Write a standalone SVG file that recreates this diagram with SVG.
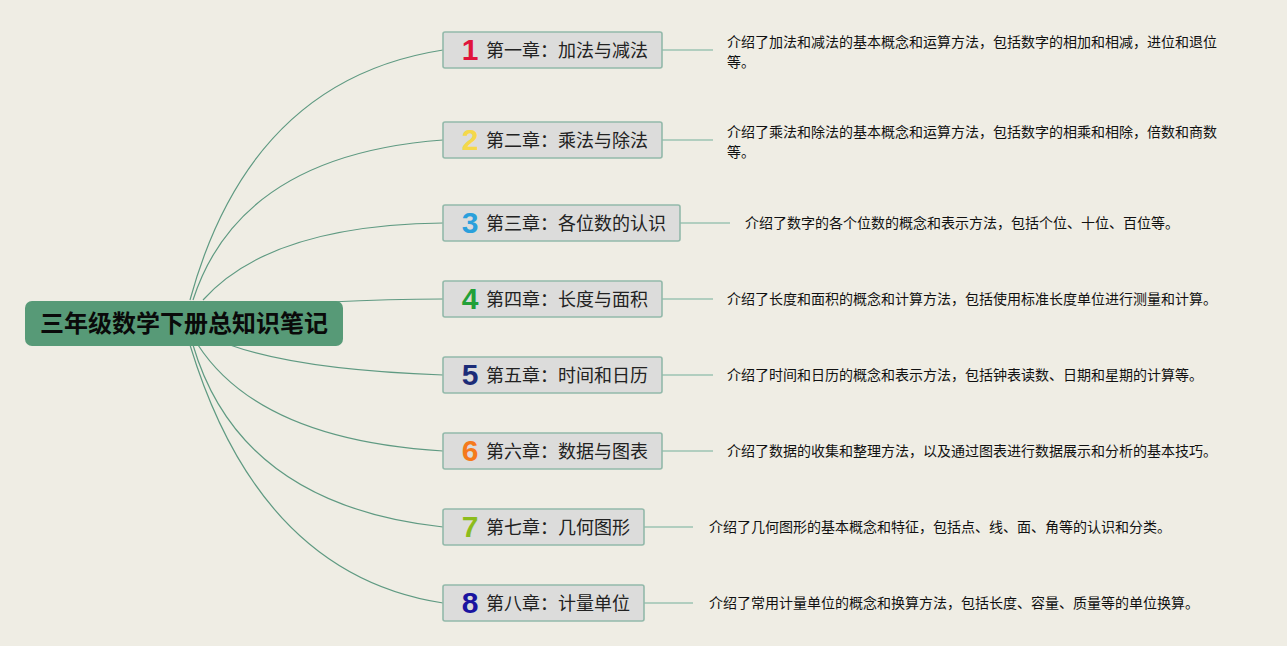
<svg xmlns="http://www.w3.org/2000/svg" width="1287" height="646" viewBox="0 0 1287 646">
<style>
.conn{fill:none;stroke:#5f9a82;stroke-width:1.2}
.sub{fill:none;stroke:#9cc3b3;stroke-width:1.5}
.box{fill:#dcdcdb;stroke:#93b9aa;stroke-width:1.6}
.num{font-family:"Liberation Sans",Arial,sans-serif;font-weight:bold;font-size:30px;text-anchor:middle}
.lbl{font-family:"Noto Sans CJK SC",sans-serif;font-size:18px;fill:#222}
.desc{font-family:"Noto Sans CJK SC",sans-serif;font-size:14px;fill:#111}
.root{font-family:"Noto Sans CJK SC",sans-serif;font-size:24px;font-weight:bold;fill:#0a0a0a}
</style>
<rect width="1287" height="646" fill="#efede4"/>
<g id="connectors">
<path class="conn" d="M190,300 Q250,80 443,50"/>
<path class="conn" d="M193,300 Q240,155 443,140"/>
<path class="conn" d="M203,300 Q270,225 443,223"/>
<path class="conn" d="M330,302 Q390,299 443,299"/>
<path class="conn" d="M230,345 Q300,370 443,375"/>
<path class="conn" d="M198,345 Q260,440 443,451"/>
<path class="conn" d="M193,345 Q240,505 443,527"/>
<path class="conn" d="M190,345 Q260,575 443,603"/>
<path class="sub" d="M662,50 H713"/>
<path class="sub" d="M662,140 H713"/>
<path class="sub" d="M680,223 H730"/>
<path class="sub" d="M662,299 H713"/>
<path class="sub" d="M662,375 H713"/>
<path class="sub" d="M662,451 H713"/>
<path class="sub" d="M644,527 H693"/>
<path class="sub" d="M644,603 H693"/>
</g>
<g id="root">
<rect x="25" y="301" width="318" height="45" rx="7" fill="#579a77"/>
<text class="root" x="184" y="332" text-anchor="middle">三年级数学下册总知识笔记</text>
</g>
<g id="ch1">
<rect class="box" x="443" y="32" width="219" height="36" rx="2"/>
<text class="num" x="470" y="60" fill="#e0143c">1</text>
<text class="lbl" x="486" y="57">第一章：加法与减法</text>
</g>
<g id="ch2">
<rect class="box" x="443" y="122" width="219" height="36" rx="2"/>
<text class="num" x="470" y="150" fill="#f5d84a">2</text>
<text class="lbl" x="486" y="147">第二章：乘法与除法</text>
</g>
<g id="ch3">
<rect class="box" x="443" y="205" width="237" height="36" rx="2"/>
<text class="num" x="470" y="233" fill="#2aa0dc">3</text>
<text class="lbl" x="486" y="230">第三章：各位数的认识</text>
</g>
<g id="ch4">
<rect class="box" x="443" y="281" width="219" height="36" rx="2"/>
<text class="num" x="470" y="309" fill="#22a038">4</text>
<text class="lbl" x="486" y="306">第四章：长度与面积</text>
</g>
<g id="ch5">
<rect class="box" x="443" y="357" width="219" height="36" rx="2"/>
<text class="num" x="470" y="385" fill="#1c2c78">5</text>
<text class="lbl" x="486" y="382">第五章：时间和日历</text>
</g>
<g id="ch6">
<rect class="box" x="443" y="433" width="219" height="36" rx="2"/>
<text class="num" x="470" y="461" fill="#f57a1c">6</text>
<text class="lbl" x="486" y="458">第六章：数据与图表</text>
</g>
<g id="ch7">
<rect class="box" x="443" y="509" width="201" height="36" rx="2"/>
<text class="num" x="470" y="537" fill="#8cbc1c">7</text>
<text class="lbl" x="486" y="534">第七章：几何图形</text>
</g>
<g id="ch8">
<rect class="box" x="443" y="585" width="201" height="36" rx="2"/>
<text class="num" x="470" y="613" fill="#1a14a0">8</text>
<text class="lbl" x="486" y="610">第八章：计量单位</text>
</g>
<g id="desc1"><text class="desc" x="727" y="47">介绍了加法和减法的基本概念和运算方法，包括数字的相加和相减，进位和退位</text><text class="desc" x="727" y="67">等。</text></g>
<g id="desc2"><text class="desc" x="727" y="137">介绍了乘法和除法的基本概念和运算方法，包括数字的相乘和相除，倍数和商数</text><text class="desc" x="727" y="157">等。</text></g>
<g id="desc3"><text class="desc" x="745" y="228">介绍了数字的各个位数的概念和表示方法，包括个位、十位、百位等。</text></g>
<g id="desc4"><text class="desc" x="727" y="304">介绍了长度和面积的概念和计算方法，包括使用标准长度单位进行测量和计算。</text></g>
<g id="desc5"><text class="desc" x="727" y="380">介绍了时间和日历的概念和表示方法，包括钟表读数、日期和星期的计算等。</text></g>
<g id="desc6"><text class="desc" x="727" y="456">介绍了数据的收集和整理方法，以及通过图表进行数据展示和分析的基本技巧。</text></g>
<g id="desc7"><text class="desc" x="709" y="532">介绍了几何图形的基本概念和特征，包括点、线、面、角等的认识和分类。</text></g>
<g id="desc8"><text class="desc" x="709" y="608">介绍了常用计量单位的概念和换算方法，包括长度、容量、质量等的单位换算。</text></g>
</svg>
